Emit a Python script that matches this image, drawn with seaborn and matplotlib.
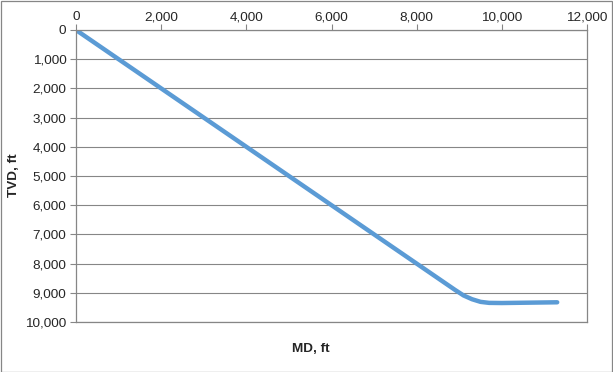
import matplotlib
matplotlib.use("Agg")
import matplotlib.pyplot as plt
import seaborn as sns
import pandas as pd
from matplotlib.ticker import FuncFormatter, MultipleLocator

md = [0, 8900, 9100, 9300, 9500, 9700, 10000, 11300]
tvd = [0, 8900, 9090, 9220, 9310, 9345, 9350, 9325]
x_label = "MD, ft"
y_label = "TVD, ft"

sns.set_style("white")
plt.rcParams['font.family'] = ['Liberation Sans', 'DejaVu Sans']

df = pd.DataFrame({"MD": md, "TVD": tvd})

fig = plt.figure(figsize=(6.13, 3.72), dpi=100)
ax = fig.add_axes([76/613, 1 - 322/372, (587-76)/613, (322-30)/372])
sns.lineplot(data=df, x="MD", y="TVD", ax=ax, color="#5B9BD5", linewidth=3.2,
             sort=False, solid_capstyle="round", solid_joinstyle="round")
ax.set_xlim(0, 12000)
ax.set_ylim(10000, 0)
ax.xaxis.set_major_locator(MultipleLocator(2000))
ax.yaxis.set_major_locator(MultipleLocator(1000))
fmt = FuncFormatter(lambda v, p: f"{int(v):,}")
ax.xaxis.set_major_formatter(fmt)
ax.yaxis.set_major_formatter(fmt)
ax.xaxis.tick_top()
ax.tick_params(axis="x", which="major", direction="out", length=4, width=0.8, color="#868686",
               labelsize=9.7, pad=1, top=True, bottom=False, labeltop=True, labelbottom=False)
ax.tick_params(axis="y", which="major", direction="out", length=4, width=0.8, color="#868686",
               labelsize=9.7, pad=3, left=True)
ax.grid(axis="y", color="#868686", linewidth=0.8)
ax.grid(axis="x", visible=False)
ax.set_axisbelow(True)
for s in ax.spines.values():
    s.set_color("#868686")
    s.set_linewidth(0.9)
    s.set_visible(True)
ax.set_xlabel("")
ax.set_ylabel("")
fig.text(311/613, 1 - 349/372, x_label, ha="center", va="center", fontsize=9.7, fontweight="bold")
fig.text(14/613, 1 - 175/372, y_label, ha="center", va="center", rotation=90, fontsize=9.7, fontweight="bold")

border = plt.Rectangle((0.5/613, 0.5/372), 1 - 1.5/613, 1 - 1.5/372, transform=fig.transFigure,
                       fill=False, edgecolor="#868686", linewidth=0.9)
fig.patches.append(border)

fig.savefig("out.png", dpi=100)
